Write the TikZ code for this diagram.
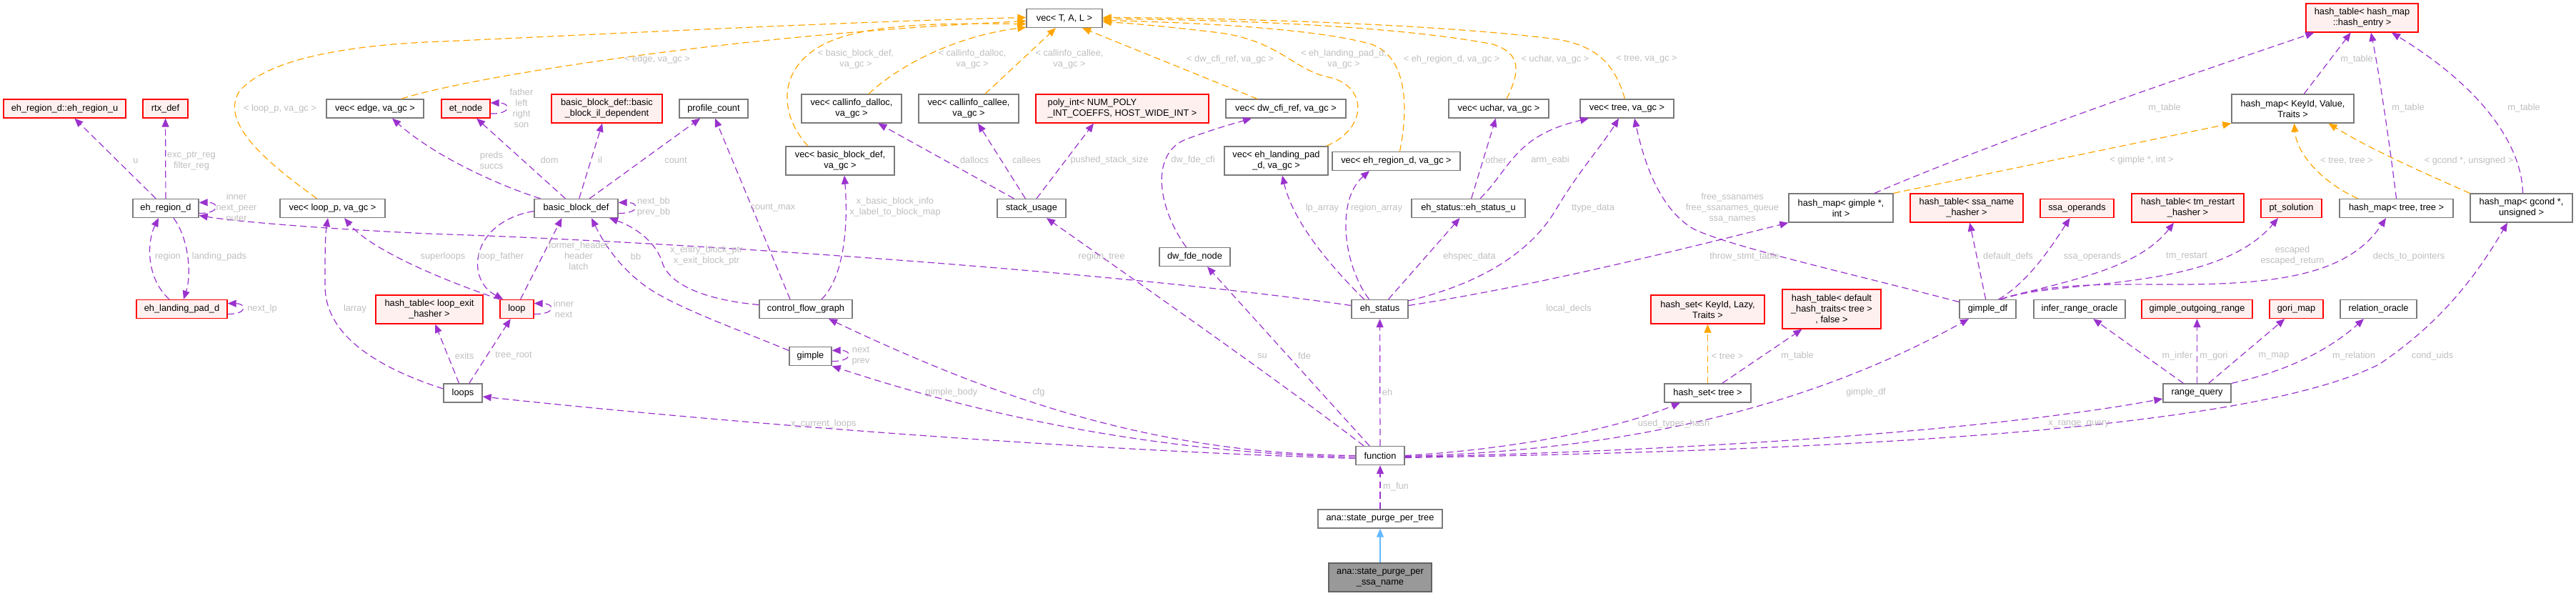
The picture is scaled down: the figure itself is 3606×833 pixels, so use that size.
\documentclass[tikz,border=0pt]{standalone}
\usepackage{fontspec}
\setmainfont{Liberation Sans}
\usetikzlibrary{arrows.meta,calc}
\definecolor{edgeuse}{HTML}{9A32CD}
\definecolor{edgetpl}{HTML}{FFA500}
\definecolor{edgeinh}{HTML}{63B8FF}
\definecolor{lblgrey}{HTML}{BEBEBE}
\definecolor{boxgrey}{HTML}{7A7A7A}
\definecolor{undocfill}{HTML}{FFF0F0}
\definecolor{mainfill}{HTML}{999999}
\newcommand{\gfont}{\fontsize{9.6}{11.25}\selectfont}

\begin{document}
\begin{tikzpicture}[
	x=0.75pt, y=-0.75pt,
	cls/.style={draw=boxgrey, fill=white, line width=1pt, inner sep=0pt, minimum height=19.5pt, align=center, font=\gfont},
	undoc/.style={cls, draw=red, fill=undocfill},
	mainnode/.style={cls, draw=boxgrey!80!black, fill=mainfill},
	wd/.style={minimum width=#1*0.75pt},
	ht/.style={minimum height=#1*0.75pt},
	lbl/.style={text=lblgrey, inner sep=0pt, align=center, font=\gfont},
	usage/.style={draw=edgeuse, line width=0.9pt, dash pattern=on 7pt off 4pt, -{Triangle[length=9pt,width=7.5pt]}},
	tmpl/.style={usage, draw=edgetpl},
	inherit/.style={draw=edgeinh, line width=0.9pt, -{Triangle[length=9pt,width=7.5pt]}}
	]
		\useasboundingbox (0,0) rectangle (3606,833);

		\node[cls, wd=106]		(vecTAL)		at (1490,25.5)		{vec< T, A, L >};
		\node[undoc, wd=157, ht=40]	(hashentry)	at (3306.5,25)		{hash\_table< hash\_map\\::hash\_entry >};

		\node[undoc, wd=171]		(ehregionu)	at (90.5,152)		{eh\_region\_d::eh\_region\_u};
		\node[undoc, wd=63]		(rtxdef)		at (231.5,152)		{rtx\_def};
		\node[cls, wd=136]		(vecedge)		at (525,152)		{vec< edge, va\_gc >};
		\node[undoc, wd=68]		(etnode)		at (652,152)		{et\_node};
		\node[undoc, wd=155, ht=40]	(bbildep)		at (849.5,152)		{basic\_block\_def::basic\\\_block\_il\_dependent};
		\node[cls, wd=96]		(profilecount)	at (999,152)		{profile\_count};
		\node[cls, wd=140, ht=40]	(vecdalloc)	at (1192,152)		{vec< callinfo\_dalloc,\\va\_gc >};
		\node[cls, wd=140, ht=40]	(veccallee)	at (1356,152)		{vec< callinfo\_callee,\\va\_gc >};
		\node[undoc, wd=242, ht=40, align=left] (polyint) at (1571,152)	{poly\_int< NUM\_POLY\\\_INT\_COEFFS, HOST\_WIDE\_INT >};
		\node[cls, wd=168]		(veccfi)		at (1800,152)		{vec< dw\_cfi\_ref, va\_gc >};
		\node[cls, wd=140]		(vecuchar)	at (2098,152)		{vec< uchar, va\_gc >};
		\node[cls, wd=131]		(vectree)		at (2277.5,152)		{vec< tree, va\_gc >};
		\node[cls, wd=171, ht=40]	(hashmapkvt)	at (3209.5,152)		{hash\_map< KeyId, Value,\\Traits >};

		\node[cls, wd=152, ht=40]	(vecbb)		at (1176,225)		{vec< basic\_block\_def,\\va\_gc >};
		\node[cls, wd=145, ht=40]	(veclp)		at (1786.5,225)		{vec< eh\_landing\_pad\\\_d, va\_gc >};
		\node[cls, wd=179]		(vecregion)	at (1954.5,225.5)	{vec< eh\_region\_d, va\_gc >};

		\node[cls, wd=92]		(ehregion)	at (232,291.5)		{eh\_region\_d};
		\node[cls, wd=147]		(veclooppt)	at (465.5,291.5)	{vec< loop\_p, va\_gc >};
		\node[cls, wd=117]		(bbdef)		at (806.5,291.5)	{basic\_block\_def};
		\node[cls, wd=96]		(stackusage)	at (1444,291.5)		{stack\_usage};
		\node[cls, wd=159]		(ehstatusu)	at (2055.5,291.5)	{eh\_status::eh\_status\_u};
		\node[cls, wd=146, ht=40]	(hmgimple)	at (2577,291)		{hash\_map< gimple *,\\int >};
		\node[undoc, wd=158, ht=40]	(htssa)		at (2753,291)		{hash\_table< ssa\_name\\\_hasher >};
		\node[undoc, wd=103]		(ssaops)		at (2907.5,291.5)	{ssa\_operands};
		\node[undoc, wd=157, ht=40]	(httm)		at (3062.5,291)		{hash\_table< tm\_restart\\\_hasher >};
		\node[undoc, wd=85]		(ptsol)		at (3207.5,291.5)	{pt\_solution};
		\node[cls, wd=159]		(hmtree)		at (3354.5,291.5)	{hash\_map< tree, tree >};
		\node[cls, wd=143, ht=40]	(hmgcond)		at (3529.5,291)		{hash\_map< gcond *,\\unsigned >};

		\node[cls, wd=99]		(dwfde)		at (1672.5,359.5)	{dw\_fde\_node};

		\node[undoc, wd=127]		(ehlp)		at (254.5,432.5)	{eh\_landing\_pad\_d};
		\node[undoc, wd=150, ht=40]	(htloopexit)	at (601,433)		{hash\_table< loop\_exit\\\_hasher >};
		\node[undoc, wd=47]		(loop)		at (723.5,432.5)	{loop};
		\node[cls, wd=130]		(cfg)			at (1128,432.5)		{control\_flow\_graph};
		\node[cls, wd=79]		(ehstatus)	at (1931.5,432.5)	{eh\_status};
		\node[undoc, wd=159, ht=40]	(hsklt)		at (2390.5,433)		{hash\_set< KeyId, Lazy,\\Traits >};
		\node[undoc, wd=138, ht=55]	(htdefault)	at (2564,432.5)		{hash\_table< default\\\_hash\_traits< tree >\\, false >};
		\node[cls, wd=79]		(gimpledf)	at (2782.5,432.5)	{gimple\_df};
		\node[cls, wd=128]		(inferro)		at (2911,432.5)		{infer\_range\_oracle};
		\node[undoc, wd=155]		(gimpleor)	at (3075.5,432.5)	{gimple\_outgoing\_range};
		\node[undoc, wd=75]		(gorimap)		at (3214.5,432.5)	{gori\_map};
		\node[cls, wd=107]		(relor)		at (3329.5,432.5)	{relation\_oracle};

		\node[cls, wd=59]		(gimple)		at (1134.5,498.5)	{gimple};
		\node[cls, wd=54]		(loops)		at (648,550)		{loops};
		\node[cls, wd=121]		(hstree)		at (2390.5,550)		{hash\_set< tree >};
		\node[cls, wd=95]		(rangequery)	at (3075.5,550)		{range\_query};
		\node[cls, wd=68]		(function)	at (1932,637.5)		{function};
		\node[cls, wd=174]		(spptree)		at (1932,726)		{ana::state\_purge\_per\_tree};
		\node[mainnode, wd=144, ht=40] (sppssa)	at (1932,808)		{ana::state\_purge\_per\\\_ssa\_name};

		\draw[tmpl] ($(veclooppt.north)+(-22,0)$) .. controls (385,235) and (305,175) .. (335,128) .. controls (375,80) and (500,62) .. (620,58) .. controls (900,45) and (1200,30) .. ($(vecTAL.west)+(0,-1)$);
		\draw[tmpl] ($(vecedge.north)+(37,0)$) .. controls (640,112) and (1000,50) .. ($(vecTAL.west)+(0,4)$);
		\draw[tmpl] ($(vecbb.north)+(-45,0)$) .. controls (1090,160) and (1085,90) .. (1164,57) .. controls (1230,30) and (1350,33) .. ($(vecTAL.west)+(0,8)$);
		\draw[tmpl] ($(vecdalloc.north)+(24,0)$) .. controls (1260,90) and (1340,50) .. ($(vecTAL.south west)+(0,-1)$);
		\draw[tmpl] ($(veccallee.north)+(23,0)$) -- ($(vecTAL.south)+(-12,0)$);
		\draw[tmpl] ($(veccfi.north)+(-40,0)$) -- ($(vecTAL.south)+(25,0)$);
		\draw[tmpl] ($(veclp.north east)+(-3,0)$) .. controls (1915,180) and (1915,120) .. (1860,108) .. controls (1810,98) and (1790,55) .. (1700,45) .. controls (1640,38) and (1590,33) .. ($(vecTAL.east)+(0,5)$);
		\draw[tmpl] ($(vecregion.north)+(5,0)$) .. controls (1972,150) and (1970,80) .. (1920,62) .. controls (1850,42) and (1700,32) .. ($(vecTAL.east)+(0,3)$);
		\draw[tmpl] ($(vecuchar.north)+(11,0)$) .. controls (2128,100) and (2130,75) .. (2090,62) .. controls (1950,35) and (1700,27) .. ($(vecTAL.east)+(0,1)$);
		\draw[tmpl] ($(vectree.north)+(-3,0)$) .. controls (2262,95) and (2240,65) .. (2180,55) .. controls (2000,32) and (1700,25) .. ($(vecTAL.east)+(0,-1)$);
		\draw[tmpl] (hmgimple.north east) -- (hashmapkvt.south west);
		\draw[tmpl] ($(hmtree.north)+(-54,0)$) .. controls (3250,255) and (3215,215) .. ($(hashmapkvt.south)+(2,0)$);
		\draw[tmpl] (hmgcond.north west) .. controls (3400,245) and (3320,210) .. ($(hashmapkvt.south)+(50,0)$);
		\draw[tmpl] (hstree) -- (hsklt);

		\draw[usage] (ehregion) -- (ehregionu);
		\draw[usage] (ehregion) -- (rtxdef);
		\draw[usage] ($(ehregion.east)+(0,7)$) .. controls (308,299) and (308,283) .. ($(ehregion.east)+(0,-8)$);
		\draw[usage] ($(ehregion.south)+(11,0)$) .. controls (265,335) and (268,385) .. ($(ehlp.north)+(2.5,0)$);
		\draw[usage] ($(ehlp.north)+(-17.5,0)$) .. controls (205,390) and (205,340) .. ($(ehregion.south)+(-10,0)$);
		\draw[usage] ($(ehlp.east)+(0,7)$) .. controls (346,440) and (346,425) .. ($(ehlp.east)+(0,-8)$);
		\draw[usage] ($(bbdef.north)+(-50,0)$) .. controls (700,260) and (610,220) .. ($(vecedge.south)+(24,0)$);
		\draw[usage] (bbdef) -- (etnode);
		\draw[usage] ($(etnode.east)+(0,7)$) .. controls (716,160) and (716,144) .. ($(etnode.east)+(0,-8)$);
		\draw[usage] (bbdef) -- (bbildep);
		\draw[usage] (bbdef) -- (profilecount);
		\draw[usage] ($(bbdef.east)+(0,7)$) .. controls (896,299) and (896,283) .. ($(bbdef.east)+(0,-8)$);
		\draw[usage] ($(bbdef.west)+(0,4)$) .. controls (660,310) and (650,390) .. ($(loop.north west)+(5,0)$);
		\draw[usage] ($(loop.north)+(5,0)$) -- ($(bbdef.south)+(-20,0)$);
		\draw[usage] (loop.north west) .. controls (620,392) and (520,350) .. ($(veclooppt.south)+(16.5,0)$);
		\draw[usage] ($(loop.east)+(0,7)$) .. controls (778,440) and (778,425) .. ($(loop.east)+(0,-8)$);
		\draw[usage] (loops) -- (htloopexit);
		\draw[usage] (loops) -- (loop);
		\draw[usage] ($(loops.west)+(0,-6)$) .. controls (530,515) and (455,470) .. (455,400) .. controls (455,360) and (455,330) .. ($(veclooppt.south)+(-6.5,0)$);
		\draw[usage] ($(cfg.west)+(0,-6)$) .. controls (990,420) and (940,400) .. (928,370) .. controls (920,340) and (890,318) .. ($(bbdef.south)+(46.5,0)$);
		\draw[usage] ($(cfg.north)+(-22,0)$) -- ($(profilecount.south)+(2,0)$);
		\draw[usage] ($(cfg.north)+(22,0)$) .. controls (1180,390) and (1188,320) .. ($(vecbb.south)+(6,0)$);
		\draw[usage] ($(gimple.west)+(0,-8)$) .. controls (1030,460) and (960,435) .. (915,408) .. controls (870,380) and (845,340) .. ($(bbdef.south)+(21.5,0)$);
		\draw[usage] ($(gimple.east)+(0,7)$) .. controls (1194,506) and (1194,490) .. ($(gimple.east)+(0,-8)$);
		\draw[usage] (stackusage) -- (vecdalloc);
		\draw[usage] (stackusage) -- (veccallee);
		\draw[usage] ($(stackusage.north)+(7,0)$) -- ($(polyint.south)+(-40,0)$);
		\draw[usage] ($(dwfde.north)+(-12,0)$) .. controls (1620,290) and (1610,215) .. (1660,195) .. controls (1700,180) and (1730,172) .. ($(veccfi.south)+(-48,0)$);
		\draw[usage] ($(ehstatus.north)+(-22,0)$) .. controls (1860,370) and (1810,310) .. ($(veclp.south)+(8.5,0)$);
		\draw[usage] ($(ehstatus.north)+(-15,0)$) .. controls (1880,370) and (1870,280) .. ($(vecregion.south)+(-37.5,0)$);
		\draw[usage] (ehstatus) -- (ehstatusu);
		\draw[usage] (ehstatusu) -- (vecuchar);
		\draw[usage] ($(ehstatusu.north)+(16.5,0)$) .. controls (2115,235) and (2120,190) .. ($(vectree.south)+(-53.5,0)$);
		\draw[usage] ($(ehstatus.north east)+(0,2)$) .. controls (2060,400) and (2140,360) .. (2180,290) .. controls (2210,240) and (2245,200) .. ($(vectree.south)+(-11.5,0)$);
		\draw[usage] ($(ehstatus.east)+(0,-5)$) .. controls (2150,400) and (2350,350) .. (hmgimple.south west);
		\draw[usage] ($(ehstatus.west)+(0,-5)$) .. controls (1600,385) and (1000,340) .. (600,327) .. controls (450,320) and (330,310) .. ($(ehregion.east)+(0,10)$);
		\draw[usage] (function) -- (ehstatus);
		\draw[usage] ($(function.north)+(-23,0)$) .. controls (1800,540) and (1600,400) .. ($(stackusage.south)+(21,0)$);
		\draw[usage] ($(function.north)+(-15,0)$) -- ($(dwfde.south)+(17.5,0)$);
		\draw[usage] ($(function.west)+(0,2)$) .. controls (1650,635) and (1400,590) .. (gimple.south east);
		\draw[usage] (function.west) .. controls (1620,635) and (1400,560) .. ($(cfg.south)+(32,0)$);
		\draw[usage] ($(function.west)+(0,4)$) .. controls (1500,630) and (1000,590) .. ($(loops.east)+(0,5)$);
		\draw[usage] (function.east) .. controls (2100,630) and (2250,605) .. ($(hstree.south)+(-38.5,0)$);
		\draw[usage] ($(function.east)+(0,1)$) .. controls (2300,630) and (2550,560) .. ($(gimpledf.south)+(-26.5,0)$);
		\draw[usage] ($(function.east)+(0,2)$) .. controls (2400,630) and (2800,600) .. ($(rangequery.west)+(0,8)$);
		\draw[usage] ($(function.east)+(0,3)$) .. controls (2600,630) and (3150,600) .. (3330,510) .. controls (3420,450) and (3470,380) .. ($(hmgcond.south)+(-19.5,0)$);
		\draw[usage] (rangequery) -- (inferro);
		\draw[usage] (rangequery) -- (gimpleor);
		\draw[usage] (rangequery) -- (gorimap);
		\draw[usage] (rangequery.north east) .. controls (3200,520) and (3260,490) .. ($(relor.south)+(-20.5,0)$);
		\draw[usage] (hstree) -- (htdefault);
		\draw[usage] (gimpledf) -- (htssa);
		\draw[usage] ($(gimpledf.north)+(15,0)$) .. controls (2840,395) and (2875,340) .. ($(ssaops.south)+(-10,0)$);
		\draw[usage] ($(gimpledf.north)+(18,0)$) .. controls (2880,395) and (2990,380) .. ($(httm.south)+(-19.5,0)$);
		\draw[usage] ($(gimpledf.north)+(18,0)$) .. controls (2880,390) and (3100,410) .. ($(ptsol.south)+(-18.5,0)$);
		\draw[usage] ($(gimpledf.north)+(18,0)$) .. controls (2870,395) and (2950,398) .. (3050,398) .. controls (3200,398) and (3290,380) .. ($(hmtree.south)+(-14.5,0)$);
		\draw[usage] ($(gimpledf.west)+(0,-10)$) .. controls (2600,385) and (2420,345) .. (2370,320) .. controls (2320,290) and (2300,220) .. ($(vectree.south)+(10.5,0)$);
		\draw[usage] ($(hmgimple.north)+(47,0)$) .. controls (2800,195) and (3050,110) .. ($(hashentry.south west)+(12,0)$);
		\draw[usage] (hashmapkvt) -- (hashentry);
		\draw[usage] (hmtree.north) .. controls (3345,200) and (3330,100) .. ($(hashentry.south)+(12.5,0)$);
		\draw[usage] ($(hmgcond.north)+(2,0)$) .. controls (3530,200) and (3470,120) .. ($(hashentry.south)+(41.5,0)$);
		\draw[usage] (spptree) -- (function);
		\draw[inherit] (sppssa) -- (spptree);

		\node[lbl] (lvloop)		at (392,152)	{< loop\_p, va\_gc >};
		\node[lbl] (lvedge)		at (920,83)	{< edge, va\_gc >};
		\node[lbl] (lvbb)		at (1198,83)	{< basic\_block\_def,\\va\_gc >};
		\node[lbl] (lvdalloc)	at (1361,83)	{< callinfo\_dalloc,\\va\_gc >};
		\node[lbl] (lvcallee)	at (1497,83)	{< callinfo\_callee,\\va\_gc >};
		\node[lbl] (lvcfi)		at (1722,83)	{< dw\_cfi\_ref, va\_gc >};
		\node[lbl] (lvlp)		at (1881,83)	{< eh\_landing\_pad\_d,\\va\_gc >};
		\node[lbl] (lvregion)	at (2032,83)	{< eh\_region\_d, va\_gc >};
		\node[lbl] (lvuchar)	at (2177,83)	{< uchar, va\_gc >};
		\node[lbl] (lvtree)		at (2305,83)	{< tree, va\_gc >};
		\node[lbl] (lgimpleint)	at (2998,224)	{< gimple *, int >};
		\node[lbl] (ltreetree)	at (3285,225)	{< tree, tree >};
		\node[lbl] (lgcond)		at (3456,225)	{< gcond *, unsigned >};
		\node[lbl] (ltree)		at (2418,498)	{< tree >};
		\node[lbl] (lu)			at (190,225)	{u};
		\node[lbl] (lexc)		at (268,225)	{exc\_ptr\_reg\\filter\_reg};
		\node[lbl] (linner)		at (331,290)	{inner\\next\_peer\\outer};
		\node[lbl] (lregion)	at (235,359)	{region};
		\node[lbl] (llpads)		at (307,359)	{landing\_pads};
		\node[lbl] (lnextlp)	at (367,432)	{next\_lp};
		\node[lbl] (llarray)	at (497,432)	{larray};
		\node[lbl] (lpreds)		at (688,224)	{preds\\succs};
		\node[lbl] (ldom)		at (769,224)	{dom};
		\node[lbl] (lfather)	at (730,151)	{father\\left\\right\\son};
		\node[lbl] (lil)		at (840,224)	{il};
		\node[lbl] (lcount)		at (946,224)	{count};
		\node[lbl] (lnextbb)	at (915,290)	{next\_bb\\prev\_bb};
		\node[lbl] (lcountmax)	at (1082,291)	{count\_max};
		\node[lbl] (lheader)	at (810,358)	{former\_header\\header\\latch};
		\node[lbl] (lloopfather) at (701,359)	{loop\_father};
		\node[lbl] (lbb)		at (890,359)	{bb};
		\node[lbl] (lentry)		at (989,358)	{x\_entry\_block\_ptr\\x\_exit\_block\_ptr};
		\node[lbl] (lsuperloops) at (620,359)	{superloops};
		\node[lbl] (linnernext)	at (789,432)	{inner\\next};
		\node[lbl] (lexits)		at (650,498)	{exits};
		\node[lbl] (ltreeroot)	at (719,498)	{tree\_root};
		\node[lbl] (lnextprev)	at (1205,498)	{next\\prev};
		\node[lbl] (lxcurrent)	at (1153,593)	{x\_current\_loops};
		\node[lbl] (lbbinfo)	at (1253,290)	{x\_basic\_block\_info\\x\_label\_to\_block\_map};
		\node[lbl] (ldallocs)	at (1364,224)	{dallocs};
		\node[lbl] (lcallees)	at (1437,224)	{callees};
		\node[lbl] (lpushed)	at (1553,224)	{pushed\_stack\_size};
		\node[lbl] (ldwfdecfi)	at (1670,224)	{dw\_fde\_cfi};
		\node[lbl] (lregiontree) at (1542,359)	{region\_tree};
		\node[lbl] (lgimplebody) at (1332,549)	{gimple\_body};
		\node[lbl] (lcfg)		at (1454,549)	{cfg};
		\node[lbl] (lsu)		at (1767,498)	{su};
		\node[lbl] (lfde)		at (1826,498)	{fde};
		\node[lbl] (leh)		at (1942,549)	{eh};
		\node[lbl] (llparray)	at (1851,291)	{lp\_array};
		\node[lbl] (lregionarray) at (1927,291)	{region\_array};
		\node[lbl] (lother)		at (2094,224)	{other};
		\node[lbl] (larmeabi)	at (2170,224)	{arm\_eabi};
		\node[lbl] (lttype)		at (2230,291)	{ttype\_data};
		\node[lbl] (lehspec)	at (2057,359)	{ehspec\_data};
		\node[lbl] (llocaldecls) at (2196,432)	{local\_decls};
		\node[lbl] (lfreessa)	at (2425,291)	{free\_ssanames\\free\_ssanames\_queue\\ssa\_names};
		\node[lbl] (lthrow)		at (2442,359)	{throw\_stmt\_table};
		\node[lbl] (lmfun)		at (1954,681)	{m\_fun};
		\node[lbl] (lusedtypes)	at (2343,593)	{used\_types\_hash};
		\node[lbl] (lmtablea)	at (2516,498)	{m\_table};
		\node[lbl] (lgimpledf)	at (2612,549)	{gimple\_df};
		\node[lbl] (lxrange)	at (2910,593)	{x\_range\_query};
		\node[lbl] (ldefaultdefs) at (2811,359)	{default\_defs};
		\node[lbl] (lssaops)	at (2929,359)	{ssa\_operands};
		\node[lbl] (ltmrestart)	at (3061,359)	{tm\_restart};
		\node[lbl] (lescaped)	at (3209,358)	{escaped\\escaped\_return};
		\node[lbl] (ldecls)		at (3372,359)	{decls\_to\_pointers};
		\node[lbl] (lmtableb)	at (3030,151)	{m\_table};
		\node[lbl] (lmtablec)	at (3299,83)	{m\_table};
		\node[lbl] (lmtabled)	at (3371,151)	{m\_table};
		\node[lbl] (lmtablee)	at (3533,151)	{m\_table};
		\node[lbl] (lminfer)	at (3048,498)	{m\_infer};
		\node[lbl] (lmgori)		at (3099,498)	{m\_gori};
		\node[lbl] (lmmap)		at (3183,498)	{m\_map};
		\node[lbl] (lmrelation)	at (3295,498)	{m\_relation};
		\node[lbl] (lconduids)	at (3405,498)	{cond\_uids};
	\end{tikzpicture}
\end{document}
